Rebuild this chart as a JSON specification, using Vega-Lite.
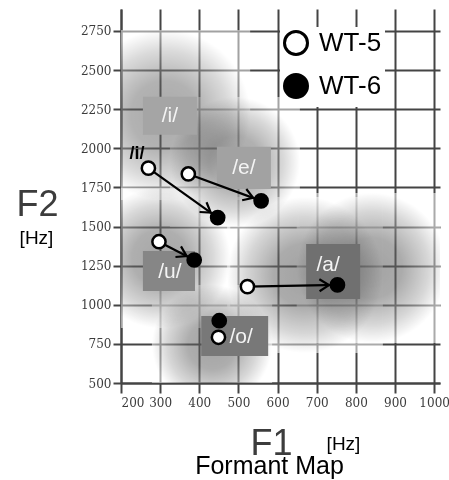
{
  "$schema": "https://vega.github.io/schema/vega-lite/v6.json",
  "autosize": "none",
  "width": 319,
  "height": 374,
  "padding": {"left": 121, "top": 9, "right": 9, "bottom": 97},
  "background": "white",
  "config": {"view": {"stroke": null}},
  "title": {"text": "Formant Map", "orient": "bottom", "fontSize": 25, "font": "Liberation Sans", "fontWeight": "normal", "color": "black", "anchor": "middle", "dx": -11, "offset": -7},
  "datasets": {
    "formants": [
      {"vowel": "i", "speaker": "WT-5", "F1": 270, "F2": 1873},
      {"vowel": "i", "speaker": "WT-6", "F1": 447, "F2": 1557},
      {"vowel": "e", "speaker": "WT-5", "F1": 372, "F2": 1836},
      {"vowel": "e", "speaker": "WT-6", "F1": 558, "F2": 1664},
      {"vowel": "u", "speaker": "WT-5", "F1": 297, "F2": 1403},
      {"vowel": "u", "speaker": "WT-6", "F1": 387, "F2": 1286},
      {"vowel": "a", "speaker": "WT-5", "F1": 523, "F2": 1116},
      {"vowel": "a", "speaker": "WT-6", "F1": 753, "F2": 1127},
      {"vowel": "o", "speaker": "WT-5", "F1": 449, "F2": 792},
      {"vowel": "o", "speaker": "WT-6", "F1": 451, "F2": 898}
    ],
    "regions": [
      {"vowel": "i", "F1lo": 95, "F1hi": 530, "F2lo": 1670, "F2hi": 2756},
      {"vowel": "e", "F1lo": 325, "F1hi": 657, "F2lo": 1497, "F2hi": 2327},
      {"vowel": "u", "F1lo": 121, "F1hi": 479, "F2lo": 852, "F2hi": 1746},
      {"vowel": "o", "F1lo": 279, "F1hi": 586, "F2lo": 360, "F2hi": 1126},
      {"vowel": "a", "F1lo": 471, "F1hi": 869, "F2lo": 692, "F2hi": 1688},
      {"vowel": "a", "F1lo": 649, "F1hi": 1033, "F2lo": 756, "F2hi": 1714}
    ],
    "labels": [
      {"vowel": "i", "label": "/i/", "F1lo": 256, "F1hi": 394, "F2lo": 2086, "F2hi": 2329, "F1": 325, "F2": 2207},
      {"vowel": "e", "label": "/e/", "F1lo": 445, "F1hi": 583, "F2lo": 1740, "F2hi": 2009, "F1": 514, "F2": 1875},
      {"vowel": "u", "label": "/u/", "F1lo": 256, "F1hi": 389, "F2lo": 1088, "F2hi": 1344, "F1": 325, "F2": 1210},
      {"vowel": "a", "label": "/a/", "F1lo": 673, "F1hi": 811, "F2lo": 1037, "F2hi": 1389, "F1": 729, "F2": 1254},
      {"vowel": "o", "label": "/o/", "F1lo": 405, "F1hi": 576, "F2lo": 673, "F2hi": 928, "F1": 507, "F2": 794}
    ],
    "notes": [
      {"text": "/i/", "F1": 241, "F2": 1964}
    ]
  },
  "layer": [
    {
      "data": {"name": "regions"},
      "mark": {"type": "rect", "clip": true, "blend": "multiply",
        "fill": {"gradient": "radial", "x1": 0.5, "y1": 0.5, "r1": 0, "x2": 0.5, "y2": 0.5, "r2": 0.5,
          "stops": [{"offset": 0, "color": "#555555"}, {"offset": 0.4, "color": "#666666"}, {"offset": 0.75, "color": "#b5b5b5"}, {"offset": 1, "color": "#ffffff"}]}},
      "encoding": {
        "x": {"field": "F1lo", "type": "quantitative", "scale": {"domain": [200, 1015], "nice": false, "zero": false},
          "axis": {"values": [200, 300, 400, 500, 600, 700, 800, 900, 1000], "tickCount": 9, "format": "d", "labelOverlap": false, "title": "F1",
            "titleFont": "Liberation Sans", "titleFontSize": 36, "titleFontWeight": "normal", "titleColor": "#3c3c3c",
            "titleX": 150, "titleY": 71, "titleBaseline": "alphabetic", "titleAlign": "center",
            "labelFont": "DejaVu Serif", "labelFontSize": 12, "labelColor": "#3c3c3c", "labelPadding": 4,
            "tickSize": 10, "tickColor": "#444", "tickWidth": 2, "domainColor": "#444", "domainWidth": 2,
            "grid": true, "gridColor": "#444", "gridWidth": 2, "gridOpacity": 1}},
        "x2": {"field": "F1hi"},
        "y": {"field": "F2lo", "type": "quantitative", "scale": {"domain": [500, 2890], "nice": false, "zero": false},
          "axis": {"values": [500, 750, 1000, 1250, 1500, 1750, 2000, 2250, 2500, 2750], "format": "d", "labelOverlap": false, "title": "F2",
            "titleFont": "Liberation Sans", "titleFontSize": 36, "titleFontWeight": "normal", "titleColor": "#3c3c3c",
            "titleAngle": 0, "titleX": -84, "titleY": 206, "titleBaseline": "alphabetic", "titleAlign": "center",
            "labelFont": "DejaVu Serif", "labelFontSize": 12, "labelColor": "#3c3c3c", "labelPadding": 2,
            "tickSize": 8, "tickColor": "#444", "tickWidth": 2, "domainColor": "#444", "domainWidth": 2,
            "grid": true, "gridColor": "#444", "gridWidth": 2, "gridOpacity": 1}},
        "y2": {"field": "F2hi"},
        "opacity": {"field": "vowel", "type": "nominal", "scale": {"domain": ["i", "e", "u", "o", "a"], "range": [0.5, 0.55, 0.85, 0.95, 0.9]}, "legend": null}
      }
    },
    {
      "data": {"name": "labels"},
      "mark": {"type": "rect"},
      "encoding": {
        "x": {"field": "F1lo", "type": "quantitative", "axis": null},
        "x2": {"field": "F1hi"},
        "y": {"field": "F2lo", "type": "quantitative", "axis": null},
        "y2": {"field": "F2hi"},
        "color": {"field": "vowel", "type": "nominal", "scale": {"domain": ["i", "e", "u", "a", "o"], "range": ["#a5a5a5", "#a2a2a2", "#868686", "#707070", "#787878"]}, "legend": null}
      }
    },
    {
      "data": {"name": "labels"},
      "mark": {"type": "text", "font": "Liberation Sans", "fontSize": 21, "color": "#f4f4f4", "align": "center", "baseline": "middle"},
      "encoding": {
        "x": {"field": "F1", "type": "quantitative", "axis": null},
        "y": {"field": "F2", "type": "quantitative", "axis": null},
        "text": {"field": "label"}
      }
    },
    {
      "data": {"name": "formants"},
      "transform": [{"filter": "datum.vowel !== 'o'"}],
      "mark": {"type": "line", "color": "black", "strokeWidth": 2.2},
      "encoding": {
        "x": {"field": "F1", "type": "quantitative", "axis": null},
        "y": {"field": "F2", "type": "quantitative", "axis": null},
        "detail": {"field": "vowel"},
        "order": {"field": "speaker"}
      }
    },
    {
      "data": {"name": "formants"},
      "transform": [
        {"window": [{"op": "lag", "field": "F1", "as": "F1_prev"}, {"op": "lag", "field": "F2", "as": "F2_prev"}], "groupby": ["vowel"], "sort": [{"field": "speaker"}]},
        {"filter": "datum.vowel !== 'o' && datum.F1_prev != null"},
        {"calculate": "atan2(-(datum.F2 - datum.F2_prev) * 0.15649, (datum.F1 - datum.F1_prev) * 0.39141) * 180 / PI", "as": "heading"}
      ],
      "mark": {"type": "point", "shape": "M -1.8 -0.6 L -0.85 0 L -1.8 0.6", "filled": false, "stroke": "black", "strokeWidth": 2.2, "size": 400, "opacity": 1},
      "encoding": {
        "x": {"field": "F1", "type": "quantitative", "axis": null},
        "y": {"field": "F2", "type": "quantitative", "axis": null},
        "angle": {"field": "heading", "type": "quantitative", "scale": null}
      }
    },
    {
      "data": {"name": "formants"},
      "mark": {"type": "point", "shape": "circle", "filled": true, "stroke": "black", "strokeWidth": 2.5, "size": 175, "opacity": 1},
      "encoding": {
        "x": {"field": "F1", "type": "quantitative", "axis": null},
        "y": {"field": "F2", "type": "quantitative", "axis": null},
        "fill": {"field": "speaker", "type": "nominal", "scale": {"domain": ["WT-5", "WT-6"], "range": ["white", "black"]},
          "legend": {"orient": "none", "legendX": 159, "legendY": 18, "title": null, "padding": 3, "fillColor": "white",
            "symbolType": "circle", "symbolSize": 529, "symbolStrokeWidth": 3, "symbolStrokeColor": "black", "symbolOpacity": 1,
            "labelFont": "Liberation Sans", "labelFontSize": 26, "labelColor": "black", "labelOffset": 10, "rowPadding": 7}}
      }
    },
    {
      "data": {"name": "notes"},
      "mark": {"type": "text", "font": "Liberation Sans", "fontSize": 18, "fontWeight": "bold", "color": "black", "align": "center", "baseline": "middle"},
      "encoding": {
        "x": {"field": "F1", "type": "quantitative",
          "axis": {"orient": "top", "title": "[Hz]", "labels": false, "ticks": false, "domain": false, "grid": false,
            "titleFont": "Liberation Sans", "titleFontSize": 19, "titleFontWeight": "normal", "titleColor": "black",
            "titleX": 222, "titleY": 434, "titleAlign": "center", "titleBaseline": "middle"}},
        "y": {"field": "F2", "type": "quantitative",
          "axis": {"orient": "right", "title": "[Hz]", "labels": false, "ticks": false, "domain": false, "grid": false,
            "titleFont": "Liberation Sans", "titleFontSize": 19, "titleFontWeight": "normal", "titleColor": "black",
            "titleAngle": 0, "titleX": -404, "titleY": 228, "titleAlign": "center", "titleBaseline": "middle"}},
        "text": {"field": "text"}
      }
    }
  ],
  "resolve": {"axis": {"x": "independent", "y": "independent"}}
}
